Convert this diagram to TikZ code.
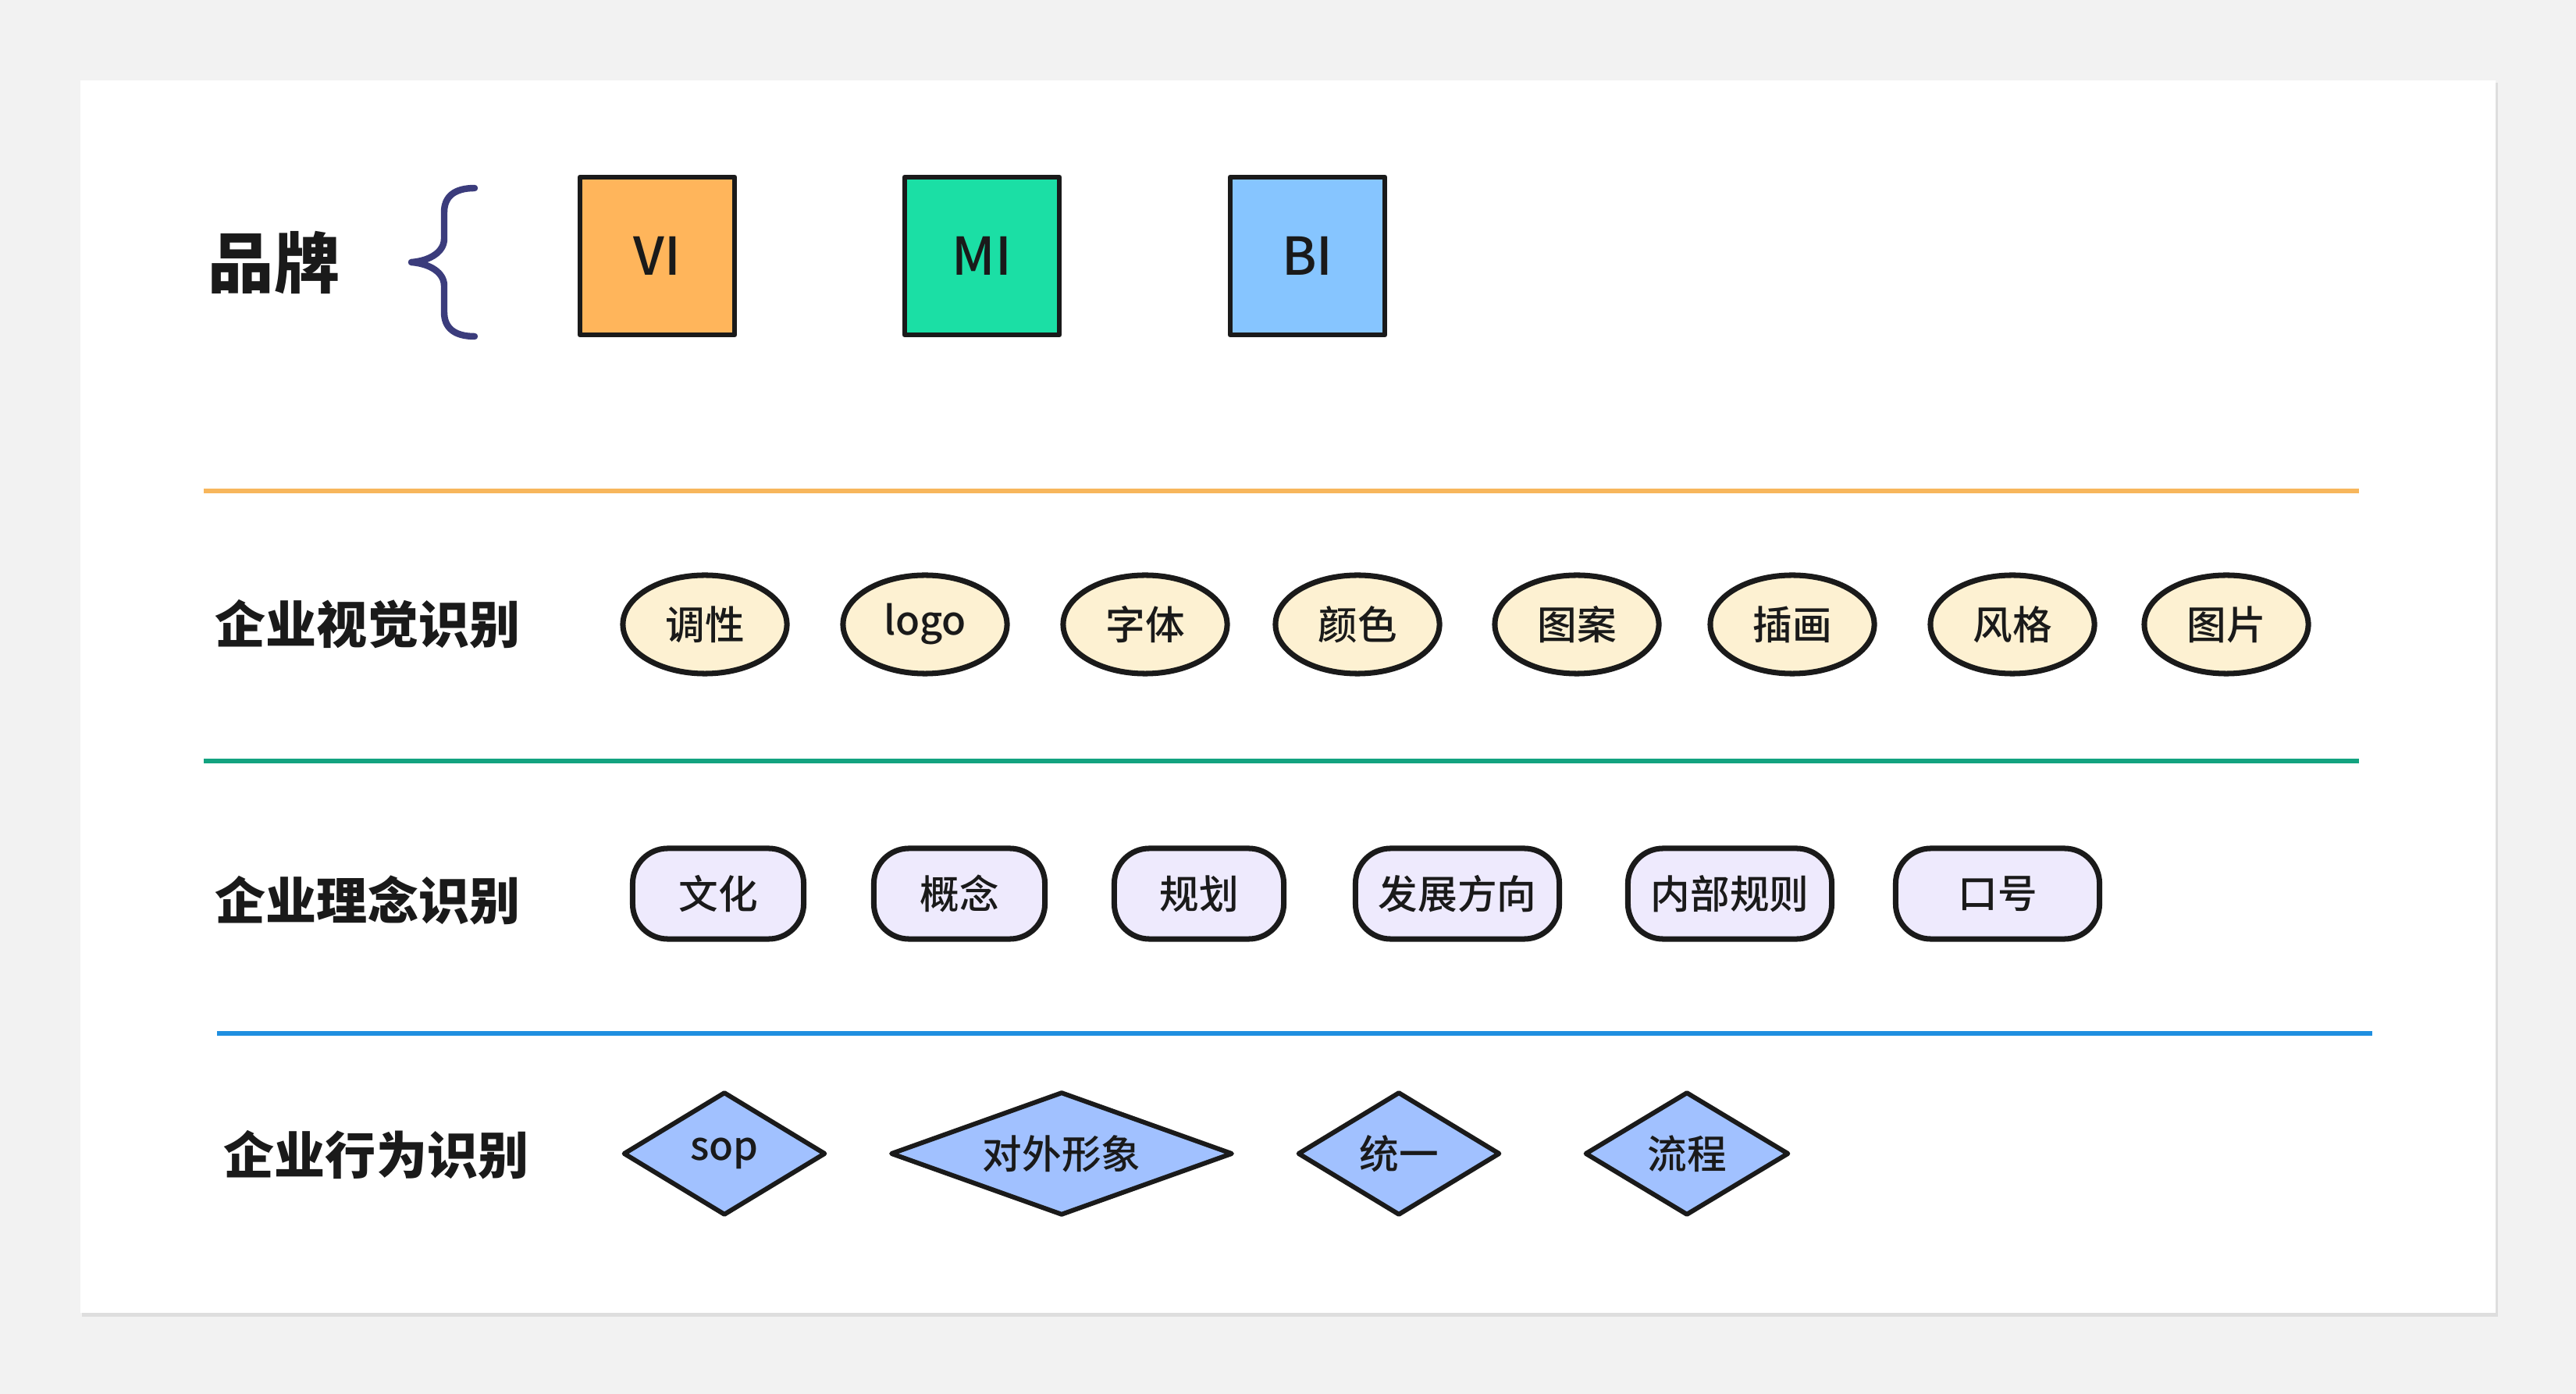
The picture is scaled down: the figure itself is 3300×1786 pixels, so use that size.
\documentclass[tikz,border=0pt]{standalone}
\usepackage{fontspec}
\setmainfont{Noto Sans CJK SC}
\newfontfamily\medfont{Noto Sans CJK SC Medium}
\usetikzlibrary{shapes.geometric}
\definecolor{pagegray}{HTML}{F2F2F2}
\definecolor{inkcolor}{HTML}{1A1A1A}
\definecolor{vicolor}{HTML}{FFB55B}
\definecolor{micolor}{HTML}{1BDFA5}
\definecolor{bicolor}{HTML}{86C5FF}
\definecolor{creamcolor}{HTML}{FDF1D2}
\definecolor{lavcolor}{HTML}{EEEAFD}
\definecolor{diacolor}{HTML}{A1C1FF}
\definecolor{orangeline}{HTML}{F7B65C}
\definecolor{greenline}{HTML}{13A380}
\definecolor{blueline}{HTML}{1F8FE0}
\definecolor{bracecolor}{HTML}{3B3C7C}

\tikzset{
  rowlabel/.style={text=inkcolor,font=\bfseries\fontsize{18.5pt}{20pt}\selectfont},
  brandbox/.style={draw=inkcolor,line width=1.9pt,minimum width=1.98cm,minimum height=2.02cm,
    inner sep=0pt,text=inkcolor,font=\medfont\fontsize{19pt}{20pt}\selectfont},
  itemtext/.style={text=inkcolor,font=\medfont\fontsize{14.4pt}{16pt}\selectfont},
  visual/.style={itemtext,ellipse,draw=inkcolor,fill=creamcolor,line width=2pt,
    minimum width=2.1cm,minimum height=1.26cm,inner sep=0pt},
  concept/.style={itemtext,rectangle,rounded corners=0.45cm,draw=inkcolor,fill=lavcolor,
    line width=2pt,minimum height=1.16cm,inner sep=0pt},
  behave/.style={itemtext,diamond,draw=inkcolor,fill=diacolor,line width=1.7pt,
    minimum height=1.58cm,inner sep=0pt}
}

\begin{document}
\begin{tikzpicture}[x=0.01cm,y=-0.01cm,line join=round]
\useasboundingbox (0,0) rectangle (3300,1786);
\fill[pagegray] (0,0) rectangle (3300,1786);
\fill[black!13] (105,106) rectangle (3200,1687);
\fill[white] (103,103) rectangle (3197,1682);
%% brand row
\node[text=inkcolor,font=\bfseries\fontsize{24pt}{26pt}\selectfont] (brand) at (351,337) {品牌};
\draw[bracecolor,line width=2.4pt,line cap=round] (608,241) .. controls (582,241) and (569,252) .. (569,272)
   -- (569,306) .. controls (569,322) and (552,334) .. (527,336)
   .. controls (552,338) and (569,350) .. (569,366) -- (569,400)
   .. controls (569,420) and (582,431) .. (608,431);
\node[brandbox,fill=vicolor] (vi) at (842,328) {VI};
\node[brandbox,fill=micolor] (mi) at (1258,328) {MI};
\node[brandbox,fill=bicolor] (bi) at (1675,328) {BI};
%% separators
\draw[orangeline,line width=1.7pt] (261,629) -- (3022,629);
\draw[greenline,line width=1.7pt] (261,975) -- (3022,975);
\draw[blueline,line width=1.7pt] (278,1324) -- (3039,1324);
%% visual identity
\node[rowlabel] (vis) at (471,800) {企业视觉识别};
\foreach \name/\x/\txt in {v1/903/调性, v2/1185/logo, v3/1467/字体, v4/1739/颜色,
    v5/2020/图案, v6/2296/插画, v7/2578/风格, v8/2852/图片}
  \node[visual] (\name) at (\x,800) {\txt};
%% mind identity
\node[rowlabel] (mind) at (471,1153) {企业理念识别};
\foreach \name/\x/\w/\txt in {m1/920/2.19/文化, m2/1229/2.19/概念, m3/1536/2.17/规划,
    m4/1867/2.61/发展方向, m5/2216/2.61/内部规则, m6/2559/2.61/口号}
  \node[concept,minimum width=\w cm] (\name) at (\x,1145) {\txt};
%% behaviour identity
\node[rowlabel] (beh) at (482,1480) {企业行为识别};
\foreach \name/\x/\w/\a/\txt in {b1/928/2.59/1.64/sop, b2/1360/4.38/2.77/对外形象,
    b3/1792/2.59/1.64/统一, b4/2161/2.61/1.65/流程}
  \node[behave,minimum width=\w cm,aspect=\a] (\name) at (\x,1478) {\txt};
\end{tikzpicture}
\end{document}
